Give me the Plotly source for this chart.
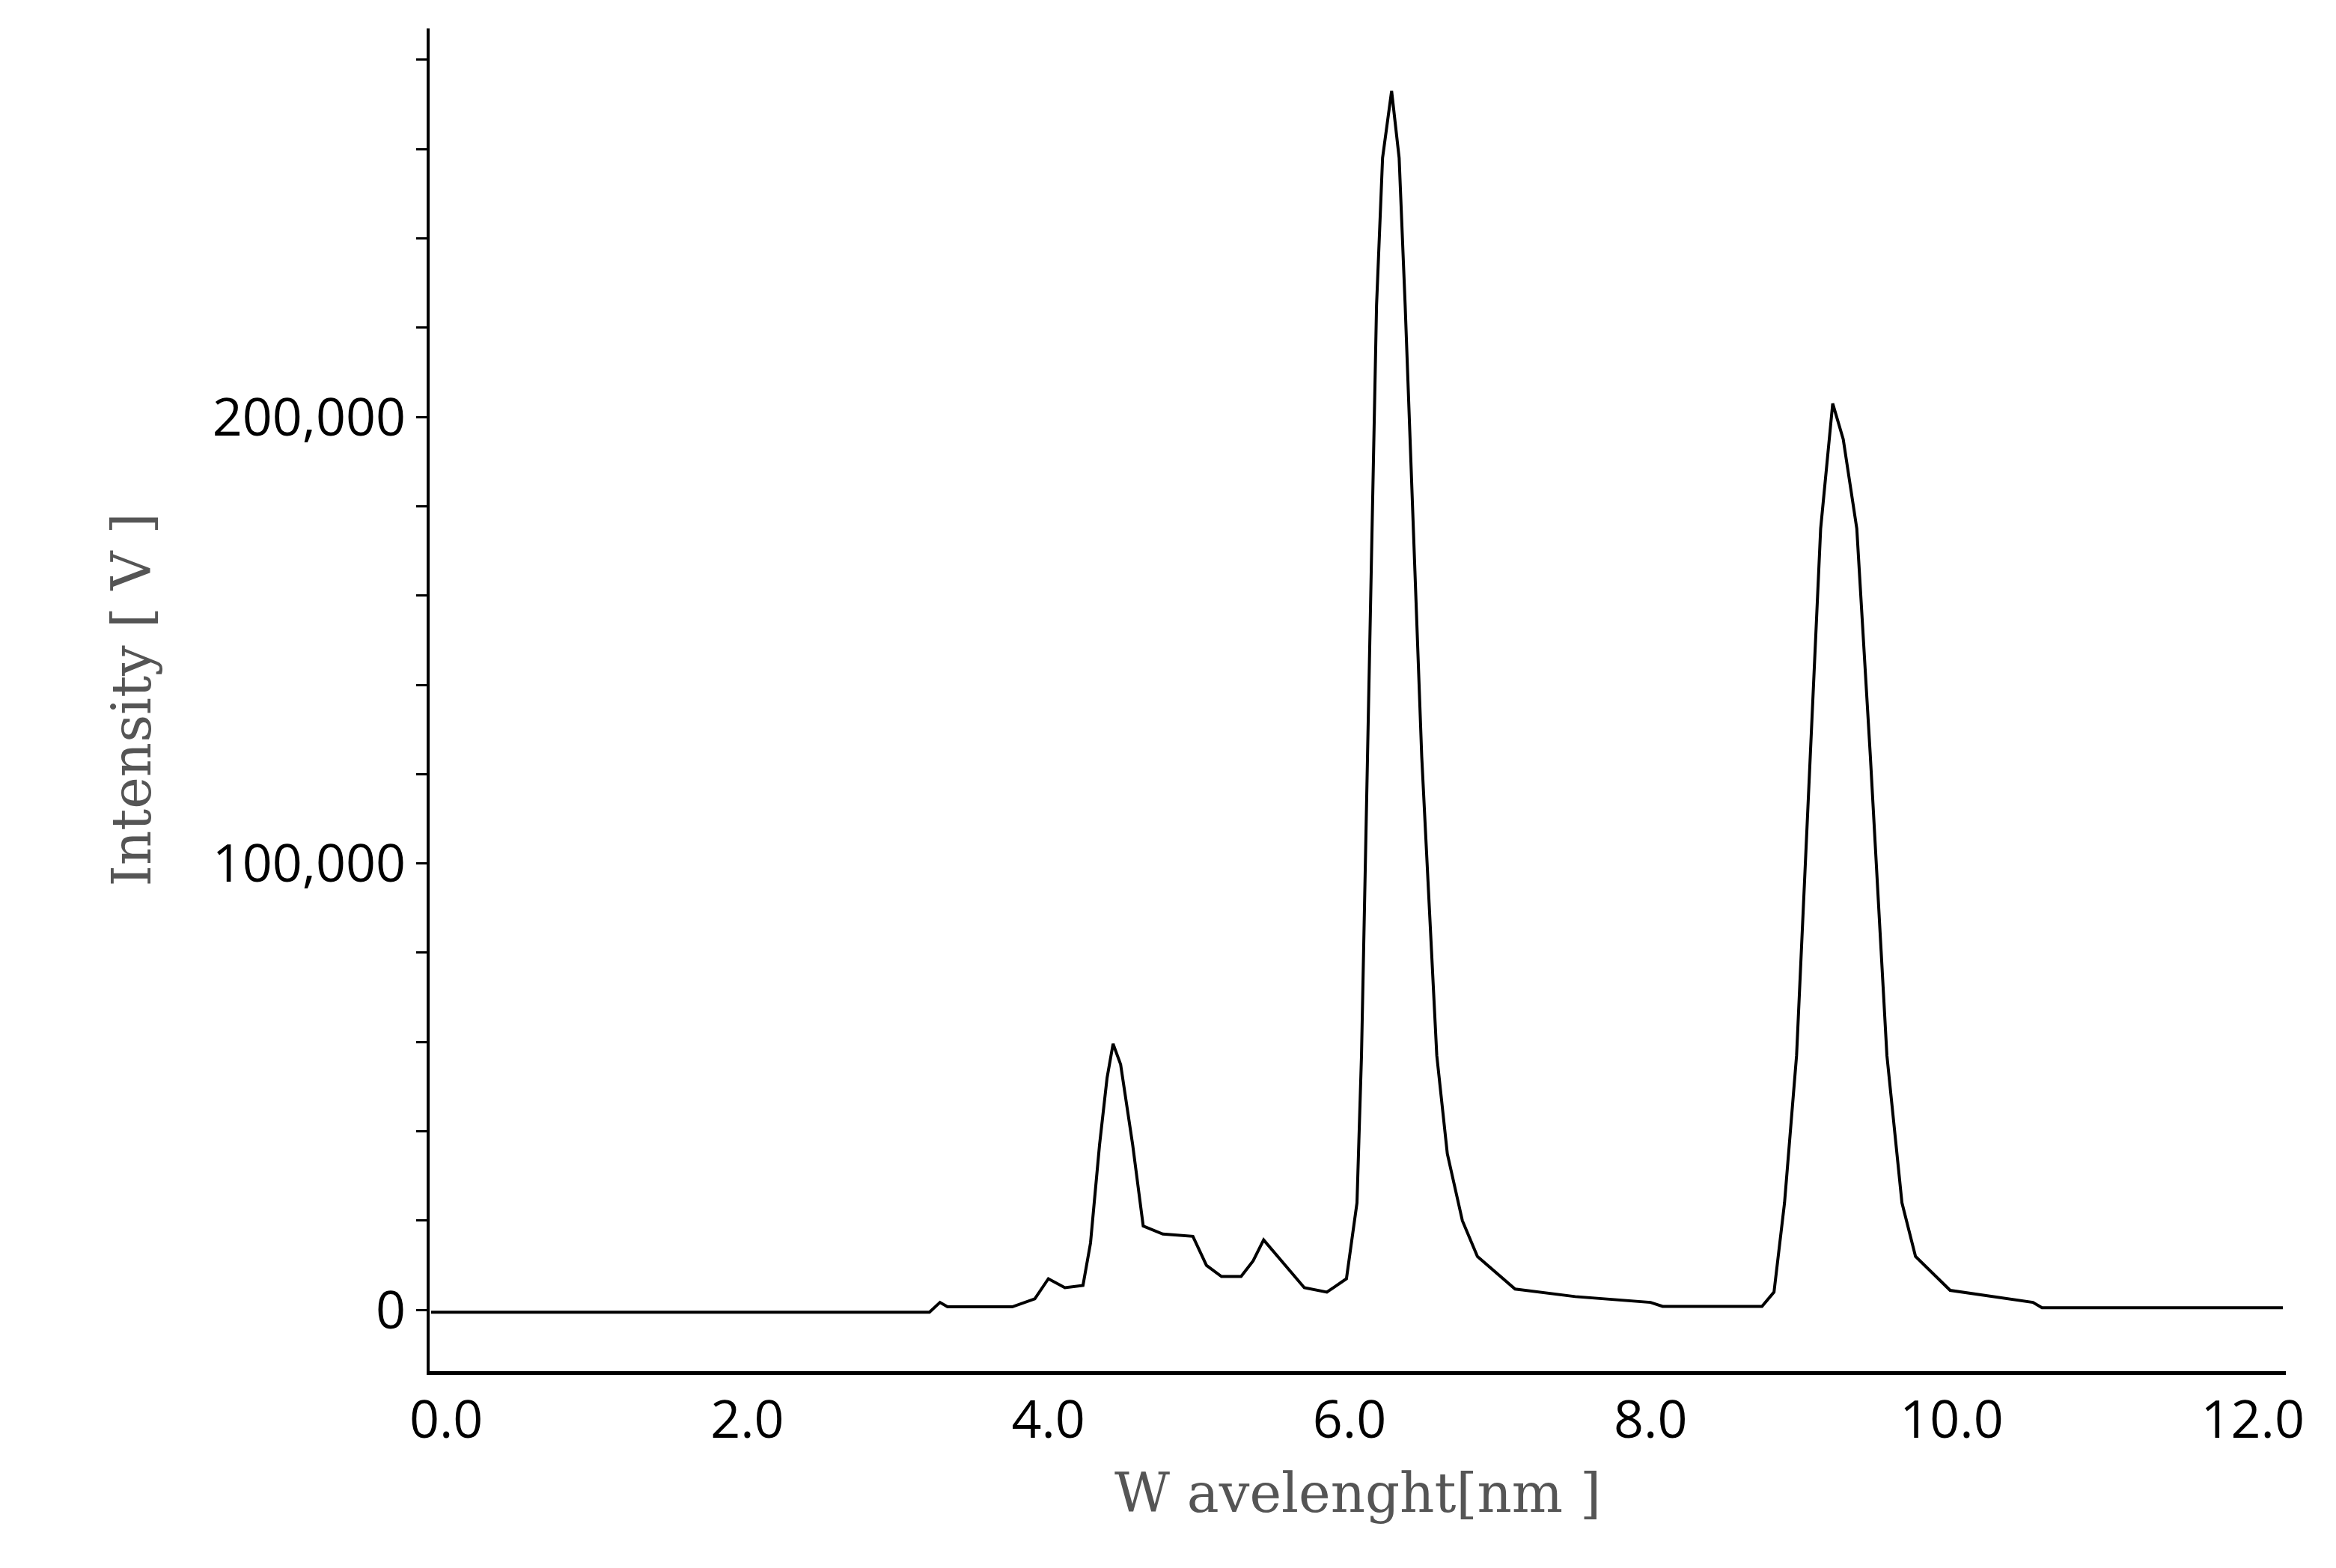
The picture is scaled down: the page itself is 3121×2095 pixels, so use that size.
import plotly.graph_objects as go

wavelength = [-0.1, 3.21, 3.28, 3.33, 3.76, 3.91, 4.0, 4.11, 4.23, 4.28, 4.34, 4.39, 4.43, 4.48, 4.56, 4.63, 4.76,
              4.96, 5.05, 5.15, 5.28, 5.36, 5.43, 5.55, 5.7, 5.85, 5.98, 6.05, 6.08, 6.12, 6.18, 6.22, 6.28,
              6.33, 6.37, 6.48, 6.58, 6.65, 6.75, 6.85, 7.1, 7.5, 8.0, 8.08, 8.74, 8.82, 8.89, 8.97, 9.06,
              9.13, 9.21, 9.28, 9.37, 9.46, 9.57, 9.67, 9.76, 9.99, 10.54, 10.6, 12.2]
intensity = [-500, -500, 1700, 700, 700, 2500, 7000, 5000, 5500, 15000, 37000, 52000, 59600, 55000, 37000, 18800, 17000,
             16500, 10000, 7500, 7500, 11000, 15700, 11000, 5000, 4000, 7000, 24000, 57000, 124000, 225000, 258000, 273000,
             258000, 225000, 124000, 57000, 35000, 20000, 12000, 4700, 3000, 1700, 800, 800, 4000, 24000, 57000, 124000,
             175000, 203000, 195000, 175000, 124000, 57000, 24000, 12000, 4400, 1700, 500, 500]

y_tickvals = [0, 20000, 40000, 60000, 80000, 100000, 120000, 140000, 160000, 180000, 200000,
              220000, 240000, 260000, 280000]
y_ticktext = ['0', '', '', '', '', '100,000', '', '', '', '', '200,000', '', '', '', '']
x_tickvals = [0, 2, 4, 6, 8, 10, 12]
x_ticktext = ['0.0', '2.0', '4.0', '6.0', '8.0', '10.0', '12.0']

fig = go.Figure()
fig.add_trace(go.Scatter(x=wavelength, y=intensity, mode='lines',
                         line=dict(color='black', width=4), showlegend=False))

fig.update_layout(
    width=3121, height=2095,
    margin=dict(l=566, r=75, t=30, b=271),
    plot_bgcolor='white', paper_bgcolor='white',
    font=dict(family='Open Sans', color='black', size=70),
    xaxis=dict(range=[-0.11, 12.22], tickvals=x_tickvals, ticktext=x_ticktext,
               showline=True, linecolor='black', linewidth=5, showgrid=False, zeroline=False,
               ticks='', tickfont=dict(size=70),
               title=dict(text='W avelenght[nm ]', font=dict(family='DejaVu Serif', size=72, color='#555555'),
                          standoff=30)),
    yaxis=dict(range=[-13700, 287000], tickvals=y_tickvals, ticktext=y_ticktext,
               showline=True, linecolor='black', linewidth=4, showgrid=False, zeroline=False,
               ticks='outside', ticklen=14, tickwidth=3, tickcolor='black', tickfont=dict(size=70),
               title=dict(text='Intensity [ V ]', font=dict(family='DejaVu Serif', size=72, color='#555555'),
                          standoff=60)),
)

fig.write_html("out.html")
